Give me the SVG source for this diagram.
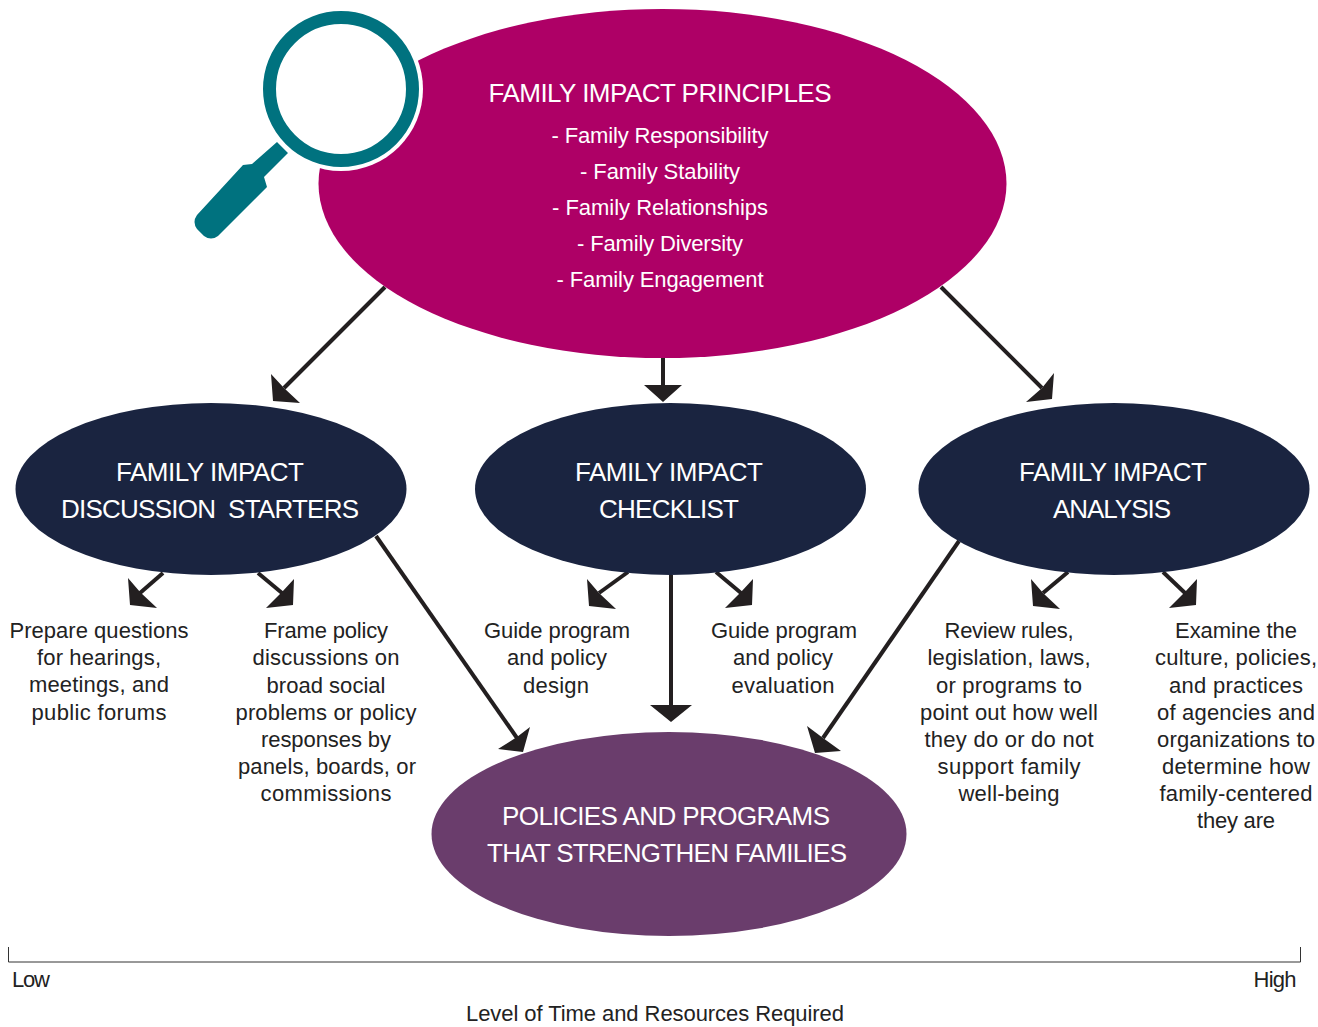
<svg xmlns="http://www.w3.org/2000/svg" width="1318" height="1027" viewBox="0 0 1318 1027">
<style>
text{font-family:"Liberation Sans",Arial,sans-serif;text-anchor:middle}
.t{font-size:26px;fill:#fff}
.s{font-size:22px;fill:#fff}
.b{font-size:22px;fill:#222}
.c{stroke:#231f20;stroke-width:4;fill:none}
.h{fill:#231f20}
</style>
<rect width="1318" height="1027" fill="#fff"/>
<g id="connectors">
<line class="c" x1="385" y1="287" x2="284" y2="388"/>
<polygon class="h" points="271,374 284,388 300,403 273,401"/>
<line class="c" x1="663" y1="355" x2="663" y2="386"/>
<polygon class="h" points="644,385 682,385 663,402"/>
<line class="c" x1="941" y1="287" x2="1042" y2="388"/>
<polygon class="h" points="1054,373 1042,388 1026,402 1052,399"/>
<line class="c" x1="163" y1="573" x2="140" y2="593"/>
<polygon class="h" points="128,578 140,592 157,608 130,605"/>
<line class="c" x1="258" y1="573" x2="282" y2="593"/>
<polygon class="h" points="294,579 282,592 266,608 293,605"/>
<line class="c" x1="628" y1="572" x2="599" y2="593"/>
<polygon class="h" points="587,579 599,593 616,609 589,606"/>
<line class="c" x1="716" y1="572" x2="741" y2="593"/>
<polygon class="h" points="753,579 741,592 725,608 752,605"/>
<line class="c" x1="1068" y1="572" x2="1043" y2="593"/>
<polygon class="h" points="1031,579 1043,593 1060,609 1033,606"/>
<line class="c" x1="1163" y1="572" x2="1185" y2="593"/>
<polygon class="h" points="1197,579 1185,592 1169,608 1196,605"/>
<line class="c" x1="671" y1="575" x2="671" y2="706"/>
<polygon class="h" points="650,705 692,705 671,722"/>
<line class="c" x1="376" y1="536" x2="517" y2="738"/>
<polygon class="h" points="530,727 517,737 498,749 523,752"/>
<line class="c" x1="959" y1="541" x2="823" y2="738"/>
<polygon class="h" points="807,726 823,738 841,751 815,753"/>
</g>
<g id="principles">
<ellipse cx="662.500" cy="183.500" rx="344" ry="174.500" fill="#ae0066"/>
<text class="t" x="660" y="102" textLength="343">FAMILY IMPACT PRINCIPLES</text>
<text class="s" x="660" y="143" textLength="217">- Family Responsibility</text>
<text class="s" x="660" y="179" textLength="160">- Family Stability</text>
<text class="s" x="660" y="215" textLength="216">- Family Relationships</text>
<text class="s" x="660" y="251" textLength="166">- Family Diversity</text>
<text class="s" x="660" y="287" textLength="207">- Family Engagement</text>
</g>
<g id="magnifier">
<circle cx="341" cy="89" r="82" fill="#fff"/>
<circle cx="341" cy="89" r="71.500" fill="#fff" stroke="#00727f" stroke-width="13"/>
<path d="M277 142L288 153L264 177L267 187L218 236Q211 241 204 236L197 229Q192 222 197 215L243 165L252 164Z" fill="#00727f"/>
</g>
<g id="starters">
<ellipse cx="211" cy="489" rx="195.500" ry="86" fill="#1a2440"/>
<text class="t" x="210" y="481" textLength="188">FAMILY IMPACT</text>
<text class="t" x="210" y="518" textLength="298" xml:space="preserve">DISCUSSION  STARTERS</text>
</g>
<g id="checklist">
<ellipse cx="670.500" cy="489" rx="195.500" ry="86" fill="#1a2440"/>
<text class="t" x="669" y="481" textLength="188">FAMILY IMPACT</text>
<text class="t" x="669" y="518" textLength="140">CHECKLIST</text>
</g>
<g id="analysis">
<ellipse cx="1114" cy="489" rx="195.500" ry="86" fill="#1a2440"/>
<text class="t" x="1113" y="481" textLength="188">FAMILY IMPACT</text>
<text class="t" x="1112" y="518" textLength="118">ANALYSIS</text>
</g>
<g id="outcome">
<ellipse cx="669" cy="834" rx="237.500" ry="102" fill="#6a3d6c"/>
<text class="t" x="666" y="825" textLength="328">POLICIES AND PROGRAMS</text>
<text class="t" x="667" y="862" textLength="360">THAT STRENGTHEN FAMILIES</text>
</g>
<g id="item1">
<text class="b" x="99" y="638" textLength="179">Prepare questions</text>
<text class="b" x="99" y="665" textLength="124">for hearings,</text>
<text class="b" x="99" y="692" textLength="140">meetings, and</text>
<text class="b" x="99" y="719.500" textLength="135">public forums</text>
</g>
<g id="item2">
<text class="b" x="326" y="638" textLength="124">Frame policy</text>
<text class="b" x="326" y="665" textLength="147">discussions on</text>
<text class="b" x="326" y="692.500" textLength="119">broad social</text>
<text class="b" x="326" y="719.500" textLength="181">problems or policy</text>
<text class="b" x="326" y="747" textLength="130">responses by</text>
<text class="b" x="327" y="774" textLength="178">panels, boards, or</text>
<text class="b" x="326" y="801" textLength="131">commissions</text>
</g>
<g id="item3">
<text class="b" x="557" y="638" textLength="146">Guide program</text>
<text class="b" x="557" y="665" textLength="100">and policy</text>
<text class="b" x="556" y="692.500" textLength="66">design</text>
</g>
<g id="item4">
<text class="b" x="784" y="638" textLength="146">Guide program</text>
<text class="b" x="783" y="665" textLength="100">and policy</text>
<text class="b" x="783" y="692.500" textLength="103">evaluation</text>
</g>
<g id="item5">
<text class="b" x="1009" y="638" textLength="129">Review rules,</text>
<text class="b" x="1009" y="665" textLength="163">legislation, laws,</text>
<text class="b" x="1009" y="692.500" textLength="146">or programs to</text>
<text class="b" x="1009" y="719.500" textLength="178">point out how well</text>
<text class="b" x="1009" y="747" textLength="169">they do or do not</text>
<text class="b" x="1009" y="774" textLength="143">support family</text>
<text class="b" x="1009" y="801" textLength="101">well-being</text>
</g>
<g id="item6">
<text class="b" x="1236" y="638" textLength="122">Examine the</text>
<text class="b" x="1236" y="665" textLength="162">culture, policies,</text>
<text class="b" x="1236" y="692.500" textLength="134">and practices</text>
<text class="b" x="1236" y="719.500" textLength="158">of agencies and</text>
<text class="b" x="1236" y="747" textLength="158">organizations to</text>
<text class="b" x="1236" y="774" textLength="148">determine how</text>
<text class="b" x="1236" y="801" textLength="153">family-centered</text>
<text class="b" x="1236" y="828" textLength="78">they are</text>
</g>
<g id="scale">
<path d="M8.500 947V962H1300.500V947" fill="none" stroke="#333" stroke-width="1"/>
<text class="b" x="31" y="987" textLength="38">Low</text>
<text class="b" x="1275" y="987" textLength="43">High</text>
<text class="b" x="655" y="1021" textLength="378">Level of Time and Resources Required</text>
</g>
</svg>
